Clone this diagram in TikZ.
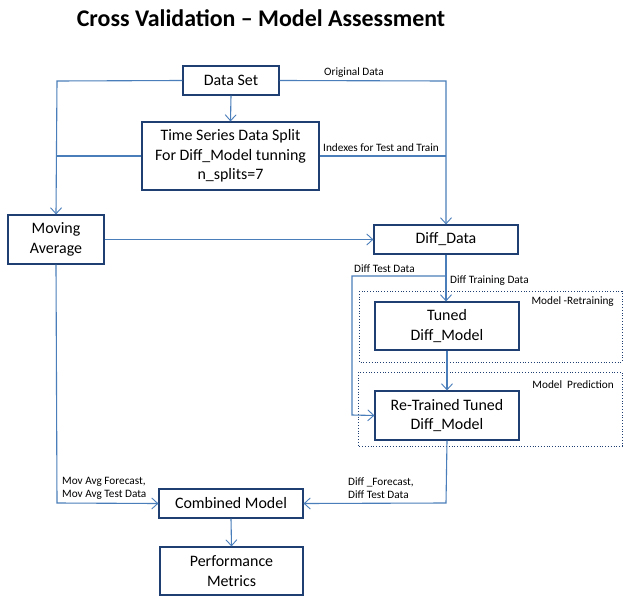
\documentclass[tikz,border=0pt]{standalone}
\usepackage{fontspec}
\setmainfont{Carlito}
\usetikzlibrary{arrows.meta}
\definecolor{lineblue}{HTML}{4A7EBB}
\definecolor{boxblue}{HTML}{1F3F73}
\tikzset{
  box/.style={draw=boxblue, line width=1.2bp, fill=white, align=center, inner sep=0pt, font=\fontsize{16}{19.5}\selectfont},
  conn/.style={draw=lineblue, line width=1.1bp},
  arr/.style={conn, -{Straight Barb[length=6bp,width=11bp,line width=0.9bp]}},
  lab/.style={font=\fontsize{11.3}{13}\selectfont, inner sep=0pt, align=left},
  group/.style={draw=boxblue, dotted, line width=0.8bp}
}
\begin{document}
\begin{tikzpicture}[x=1bp,y=-1bp]
\useasboundingbox[fill=white] (0,0) rectangle (631,604);
\node[font=\fontsize{24}{27}\bfseries\selectfont] (title) at (261,18) {Cross Validation -- Model Assessment};
% group boxes
\draw[group] (359,291) rectangle (622,362);
\draw[group] (358,372) rectangle (622,446);
\node[lab, anchor=north east] (gr) at (614,296) {Model -Retraining};
\node[lab, anchor=north east] (gp) at (614,380) {Model\ \ Prediction};
% boxes
\node[box, minimum width=96bp, minimum height=29bp] (ds) at (231,80.5) {Data Set};
\node[box, minimum width=177bp, minimum height=68bp] (ts) at (230.5,156) {Time Series Data Split\\For Diff\_Model tunning\\n\_splits=7};
\node[box, minimum width=96bp, minimum height=49bp] (ma) at (56,239.5) {Moving\\Average};
\node[box, minimum width=144bp, minimum height=29bp] (dd) at (446,239.5) {Diff\_Data};
\node[box, minimum width=144bp, minimum height=48bp] (tm) at (447,326) {Tuned\\Diff\_Model};
\node[box, minimum width=144bp, minimum height=49bp] (rt) at (447,415.5) {Re-Trained Tuned\\Diff\_Model};
\node[box, minimum width=144bp, minimum height=29bp] (cm) at (231,503.5) {Combined Model};
\node[box, minimum width=143bp, minimum height=48bp] (pm) at (231.5,571) {Performance\\Metrics};
% coordinates
\coordinate (c1) at (57,81);
\coordinate (c2) at (446,81);
\coordinate (c3) at (446,276);
\coordinate (c4) at (352,276);
\coordinate (c5) at (352,415);
\coordinate (c6) at (446,503);
\coordinate (c7) at (57,503);
% connectors
\draw[arr] (ds.south) -- (ts.north);
\draw[arr] (ds.west) -- (c1) -- (ma.north);
\draw[conn] (ts.west) -- (ts.west -| c1);
\draw[arr] (ds.east) -- (c2) -- (dd.north);
\draw[conn] (ts.east) -- (ts.east -| c2);
\draw[arr] (ma.east) -- (dd.west);
\draw[arr] (dd.south) -- (dd.south |- tm.north);
\draw[arr] (c3) -- (c4) -- (c5) -- (rt.west);
\draw[arr] (tm.south) -- (rt.north);
\draw[arr] (rt.south) -- (c6) -- (cm.east);
\draw[arr] (ma.south) -- (c7) -- (cm.west);
\draw[arr] (cm.south) -- (pm.north);
% labels
\node[lab, anchor=south west] (l1) at (324,78) {Original Data};
\node[lab, anchor=south west] (l2) at (323,152) {Indexes for Test and Train};
\node[lab, anchor=south west] (l3) at (354,273) {Diff Test Data};
\node[lab, anchor=north west] (l4) at (450,276) {Diff Training Data};
\node[lab, anchor=south west] (l5) at (348,499) {Diff \_Forecast,\\Diff Test Data};
\node[lab, anchor=south west] (l6) at (62,500) {Mov Avg Forecast,\\Mov Avg Test Data};
\end{tikzpicture}
\end{document}
